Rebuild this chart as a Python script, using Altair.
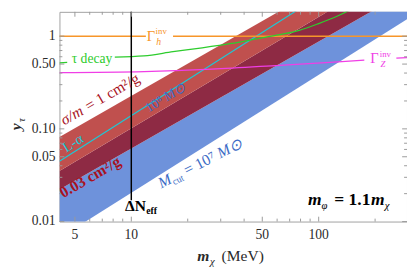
import altair as alt
import pandas as pd

SERIF = "Liberation Serif"

# ---------------- data ----------------
x_domain = [4.136, 296]
y_domain = [0.01, 1.83]

x_major = [5, 10, 50, 100]
x_major_labels = ["5", "10", "50", "100"]
x_minor = [6, 7, 8, 9, 20, 30, 40, 60, 70, 80, 90, 200]
y_major = [0.01, 0.05, 0.1, 0.5, 1]
y_major_labels = ["0.01", "0.05", "0.10", "0.50", "1"]
y_minor = [0.02, 0.03, 0.04, 0.06, 0.07, 0.08, 0.09, 0.2, 0.3, 0.4, 0.6, 0.7, 0.8, 0.9]

band_x = [4.136, 296]
light_red_hi = [0.0815, 11.4]
light_red_lo = [0.0350, 5.95]
dark_red_lo = [0.0222, 3.06]
blue_lo = [0.00664, 1.52]

cyan_x = [4.136, 296]
cyan_y = [0.0446, 10.8]

orange_x = [4.136, 11.96, 16.7, 296]
orange_y = [1.0, 1.0, 1.0, 1.0]
orange_seg = [0, 0, 1, 1]

magenta_x = [4.136, 11.68, 26.9, 62.0, 126.9, 175.2, 259.7, 296]
magenta_y = [0.405, 0.415, 0.441, 0.485, 0.528, 0.55, 0.581, 0.588]
magenta_seg = [0, 0, 0, 0, 0, 0, 1, 1]

green_x = [4.136, 4.55, 8.165, 11.68, 16.7, 23.9, 34.2, 46.0, 62.0, 78.8, 100, 126.9, 161.2]
green_y = [0.515, 0.522, 0.596, 0.613, 0.68, 0.749, 0.835, 0.930, 1.037, 1.156, 1.368, 1.66, 2.11]
green_seg = [0, 0, 1, 1, 1, 1, 1, 1, 1, 1, 1, 1, 1]

dneff_x = [10]
dneff_lo = [0.017]
dneff_hi = [2.0]

# ---------------- styling ----------------
W, H = 358, 216
LIGHT_RED = "#c0504e"
DARK_RED = "#8e2a44"
BLUE = "#6e92db"
CYAN = "#1cc9d6"
ORANGE = "#f7962a"
MAGENTA = "#f03ee6"
GREEN = "#2ecc2e"
RED_TXT = "#a8121e"
BLUE_TXT = "#3d6cc6"
TICK = "#9a9a9a"
LAB = "#2a2a2a"

xs = alt.Scale(type="log", domain=x_domain, nice=False)
ys = alt.Scale(type="log", domain=y_domain, nice=False)


def xenc(f="x"):
    return alt.X(f + ":Q", scale=xs, axis=None)


def yenc(f="y"):
    return alt.Y(f + ":Q", scale=ys, axis=None)


def band(lo, hi, color):
    df = pd.DataFrame({"x": band_x, "lo": lo, "hi": hi})
    return alt.Chart(df).mark_area(color=color, clip=True, opacity=1).encode(
        x=xenc(), y=yenc("hi"), y2="lo:Q")


def label(x, y, text, size, color, angle=0, dx=0, dy=0, style="normal",
          weight="normal", align="left", baseline="alphabetic"):
    df = pd.DataFrame({"x": [x], "y": [y], "t": [text]})
    return alt.Chart(df).mark_text(
        align=align, baseline=baseline, dx=dx, dy=dy, angle=angle,
        fontSize=size, font=SERIF, fontStyle=style, fontWeight=weight,
        color=color).encode(x=xenc(), y=yenc(), text="t:N")


def plabel(px, py, text, size, color, angle=0, dx=0, dy=0, style="normal",
           weight="normal", align="left", baseline="alphabetic"):
    df = pd.DataFrame({"t": [text]})
    return alt.Chart(df).mark_text(
        align=align, baseline=baseline, dx=dx, dy=dy, angle=angle,
        fontSize=size, font=SERIF, fontStyle=style, fontWeight=weight,
        color=color).encode(x=alt.value(px), y=alt.value(py), text="t:N")


layers = [band(blue_lo, dark_red_lo, BLUE),
          band(dark_red_lo, light_red_lo, DARK_RED),
          band(light_red_lo, light_red_hi, LIGHT_RED)]

layers.append(alt.Chart(pd.DataFrame({"x": cyan_x, "y": cyan_y})).mark_line(
    color=CYAN, strokeWidth=1.2, clip=True).encode(x=xenc(), y=yenc()))

layers.append(alt.Chart(pd.DataFrame({"x": orange_x, "y": orange_y, "s": orange_seg})).mark_line(
    color=ORANGE, strokeWidth=1.5, clip=True).encode(x=xenc(), y=yenc(), detail="s:N"))

layers.append(alt.Chart(pd.DataFrame({"x": magenta_x, "y": magenta_y, "s": magenta_seg})).mark_line(
    color=MAGENTA, strokeWidth=1.3, clip=True, interpolate="monotone").encode(
    x=xenc(), y=yenc(), detail="s:N"))

layers.append(alt.Chart(pd.DataFrame({"x": green_x, "y": green_y, "s": green_seg})).mark_line(
    color=GREEN, strokeWidth=1.3, clip=True, interpolate="monotone").encode(
    x=xenc(), y=yenc(), detail="s:N"))

layers.append(alt.Chart(pd.DataFrame({"x": dneff_x, "lo": dneff_lo, "hi": dneff_hi})).mark_rule(
    color="black", strokeWidth=1.5, clip=True).encode(x=xenc(), y=yenc("lo"), y2="hi:Q"))

# inward frame ticks
for vals, ln in ((x_major, 5), (x_minor, 3)):
    d = pd.DataFrame({"v": vals})
    layers.append(alt.Chart(d).mark_rule(color=TICK, strokeWidth=1).encode(
        x=xenc("v"), y=alt.value(H), y2=alt.value(H - ln)))
    layers.append(alt.Chart(d).mark_rule(color=TICK, strokeWidth=1).encode(
        x=xenc("v"), y=alt.value(0), y2=alt.value(ln)))
for vals, ln in ((y_major, 5), (y_minor, 3)):
    d = pd.DataFrame({"v": vals})
    layers.append(alt.Chart(d).mark_rule(color=TICK, strokeWidth=1).encode(
        y=yenc("v"), x=alt.value(0), x2=alt.value(ln)))
    layers.append(alt.Chart(d).mark_rule(color=TICK, strokeWidth=1).encode(
        y=yenc("v"), x=alt.value(W), x2=alt.value(W - ln)))

# tick labels
layers.append(alt.Chart(pd.DataFrame({"v": x_major, "t": x_major_labels})).mark_text(
    font=SERIF, fontSize=14, color=LAB, align="center", baseline="alphabetic").encode(
    x=xenc("v"), y=alt.value(H + 18), text="t:N"))
layers.append(alt.Chart(pd.DataFrame({"v": y_major, "t": y_major_labels})).mark_text(
    font=SERIF, fontSize=14, color=LAB, align="right", baseline="middle").encode(
    y=yenc("v"), x=alt.value(-4), text="t:N"))

# annotations
A30 = 330
layers += [
    # sigma/m = 1 cm^2/g
    label(4.39, 0.1088, "σ/m", 16, RED_TXT, angle=A30, style="italic"),
    label(4.39, 0.1088, "= 1 cm²/g", 16, RED_TXT, angle=A30, dx=29),
    # L-alpha
    label(4.50, 0.0554, "L-α", 15, CYAN, angle=328),
    # 10^8 Msun
    label(12.4, 0.149, "10⁸", 14, BLUE_TXT, angle=328),
    label(12.4, 0.149, "M⊙", 14, BLUE_TXT, angle=328, dx=22, style="italic"),
    # 0.03 cm^2/g
    label(4.34, 0.01784, "0.03 cm²/g", 16, RED_TXT, angle=A30, weight="bold"),
    # M_cut = 10^7 Msun
    label(14.47, 0.0227, "M", 16, BLUE_TXT, angle=333, style="italic"),
    label(14.47, 0.0227, "cut", 10, BLUE_TXT, angle=333, dx=13.3, dy=3),
    label(14.47, 0.0227, "= 10⁷", 16, BLUE_TXT, angle=333, dx=29.5),
    label(14.47, 0.0227, "M⊙", 16, BLUE_TXT, angle=333, dx=68, style="italic"),
    # Gamma_h^inv
    label(12.1, 1.0, "Γ", 15, ORANGE, baseline="middle"),
    label(13.48, 1.0, "inv", 9, ORANGE, baseline="middle", dy=-5),
    label(13.6, 1.0, "h", 10, ORANGE, baseline="middle", dy=6, style="italic"),
    # tau decay
    label(6.17, 0.561, "τ decay", 14, GREEN, align="center", baseline="middle"),
    # Gamma_Z^inv
    label(188.2, 0.574, "Γ", 15, MAGENTA, baseline="middle"),
    label(212, 0.574, "inv", 9, MAGENTA, baseline="middle", dy=-5),
    label(214, 0.574, "Z", 9, MAGENTA, baseline="middle", dy=6, style="italic"),
    # m_phi = 1.1 m_chi
    label(87.7, 0.01507, "m", 18, "black", style="italic", weight="bold"),
    label(87.7, 0.01507, "φ", 11, "black", dx=14, dy=4, style="italic"),
    label(87.7, 0.01507, "= 1.1", 18, "black", dx=27, weight="bold"),
    label(87.7, 0.01507, "m", 18, "black", dx=65, style="italic", weight="bold"),
    label(87.7, 0.01507, "χ", 11, "black", dx=79, dy=4, style="italic"),
    # Delta N_eff
    label(9.25, 0.01303, "ΔN", 16, "black", weight="bold"),
    label(9.25, 0.01303, "eff", 10, "black", dx=22, dy=3, weight="bold"),
    # axis titles
    plabel(142, 257, "m", 16, LAB, style="italic", weight="bold"),
    plabel(142, 257, "χ", 11, LAB, dx=13, dy=4, style="italic"),
    plabel(167, 257, "(MeV)", 16, LAB),
    plabel(-40, 122, "y", 16, LAB, angle=270, style="italic", weight="bold"),
    plabel(-40, 122, "τ", 11, LAB, angle=270, dx=8.5, dy=4, style="italic"),
]

chart = alt.layer(*layers).properties(
    width=W, height=H,
    padding={"left": 53, "top": 0, "right": 0, "bottom": 48},
    autosize=alt.AutoSizeParams(type="none"),
).configure_view(stroke="#a0a0a0", strokeWidth=1)

chart.save("out.html", embed_options={"renderer": "svg", "actions": False})
